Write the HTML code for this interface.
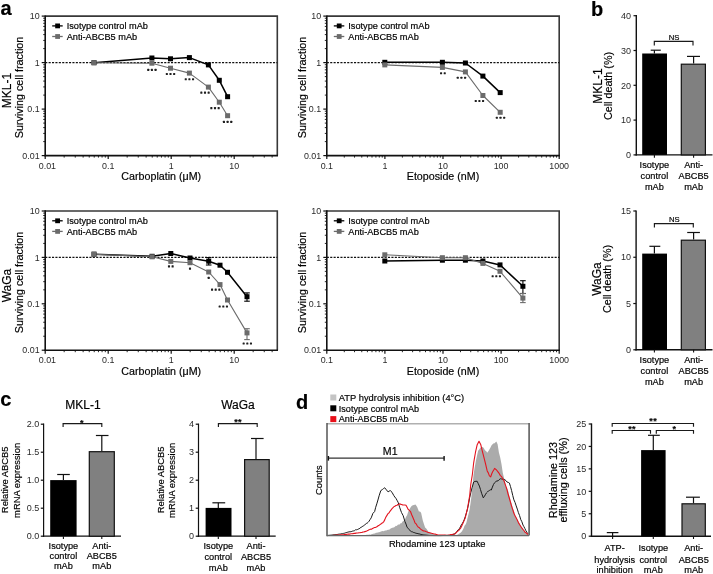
<!DOCTYPE html>
<html><head><meta charset="utf-8"><style>
html,body{margin:0;padding:0;background:#fff;}
svg{display:block;will-change:transform;}
text{font-family:"Liberation Sans", sans-serif;stroke:#000;stroke-width:0.18px;paint-order:stroke;}
text.tk{stroke:none;}
</style></head><body>
<svg width="713" height="574" viewBox="0 0 713 574">
<rect width="713" height="574" fill="#fff"/>
<polyline points="45.20,16.10 277.30,16.10 277.30,155.60" fill="none" stroke="#383838" stroke-width="1.6" stroke-linejoin="miter"/>
<line x1="45.20" y1="15.40" x2="45.20" y2="156.30" stroke="#111" stroke-width="1.6"/>
<line x1="44.50" y1="155.60" x2="278.00" y2="155.60" stroke="#111" stroke-width="1.6"/>
<line x1="41.70" y1="16.10" x2="45.20" y2="16.10" stroke="#111" stroke-width="1.2"/>
<text x="39.60" y="19.30" font-size="8.9" text-anchor="end" font-weight="normal" fill="#2a2a2a" class="tk">10</text>
<line x1="43.20" y1="48.60" x2="45.20" y2="48.60" stroke="#111" stroke-width="0.9"/>
<line x1="43.20" y1="40.41" x2="45.20" y2="40.41" stroke="#111" stroke-width="0.9"/>
<line x1="43.20" y1="34.60" x2="45.20" y2="34.60" stroke="#111" stroke-width="0.9"/>
<line x1="43.20" y1="30.10" x2="45.20" y2="30.10" stroke="#111" stroke-width="0.9"/>
<line x1="43.20" y1="26.42" x2="45.20" y2="26.42" stroke="#111" stroke-width="0.9"/>
<line x1="43.20" y1="23.30" x2="45.20" y2="23.30" stroke="#111" stroke-width="0.9"/>
<line x1="43.20" y1="20.61" x2="45.20" y2="20.61" stroke="#111" stroke-width="0.9"/>
<line x1="43.20" y1="18.23" x2="45.20" y2="18.23" stroke="#111" stroke-width="0.9"/>
<line x1="41.70" y1="62.60" x2="45.20" y2="62.60" stroke="#111" stroke-width="1.2"/>
<text x="39.60" y="65.80" font-size="8.9" text-anchor="end" font-weight="normal" fill="#2a2a2a" class="tk">1</text>
<line x1="43.20" y1="95.10" x2="45.20" y2="95.10" stroke="#111" stroke-width="0.9"/>
<line x1="43.20" y1="86.91" x2="45.20" y2="86.91" stroke="#111" stroke-width="0.9"/>
<line x1="43.20" y1="81.10" x2="45.20" y2="81.10" stroke="#111" stroke-width="0.9"/>
<line x1="43.20" y1="76.60" x2="45.20" y2="76.60" stroke="#111" stroke-width="0.9"/>
<line x1="43.20" y1="72.92" x2="45.20" y2="72.92" stroke="#111" stroke-width="0.9"/>
<line x1="43.20" y1="69.80" x2="45.20" y2="69.80" stroke="#111" stroke-width="0.9"/>
<line x1="43.20" y1="67.11" x2="45.20" y2="67.11" stroke="#111" stroke-width="0.9"/>
<line x1="43.20" y1="64.73" x2="45.20" y2="64.73" stroke="#111" stroke-width="0.9"/>
<line x1="41.70" y1="109.10" x2="45.20" y2="109.10" stroke="#111" stroke-width="1.2"/>
<text x="39.60" y="112.30" font-size="8.9" text-anchor="end" font-weight="normal" fill="#2a2a2a" class="tk">0.1</text>
<line x1="43.20" y1="141.60" x2="45.20" y2="141.60" stroke="#111" stroke-width="0.9"/>
<line x1="43.20" y1="133.41" x2="45.20" y2="133.41" stroke="#111" stroke-width="0.9"/>
<line x1="43.20" y1="127.60" x2="45.20" y2="127.60" stroke="#111" stroke-width="0.9"/>
<line x1="43.20" y1="123.10" x2="45.20" y2="123.10" stroke="#111" stroke-width="0.9"/>
<line x1="43.20" y1="119.42" x2="45.20" y2="119.42" stroke="#111" stroke-width="0.9"/>
<line x1="43.20" y1="116.30" x2="45.20" y2="116.30" stroke="#111" stroke-width="0.9"/>
<line x1="43.20" y1="113.61" x2="45.20" y2="113.61" stroke="#111" stroke-width="0.9"/>
<line x1="43.20" y1="111.23" x2="45.20" y2="111.23" stroke="#111" stroke-width="0.9"/>
<line x1="41.70" y1="155.60" x2="45.20" y2="155.60" stroke="#111" stroke-width="1.2"/>
<text x="39.60" y="158.80" font-size="8.9" text-anchor="end" font-weight="normal" fill="#2a2a2a" class="tk">0.01</text>
<line x1="45.20" y1="155.60" x2="45.20" y2="159.10" stroke="#111" stroke-width="1.2"/>
<line x1="64.16" y1="155.60" x2="64.16" y2="157.60" stroke="#111" stroke-width="0.9"/>
<line x1="75.26" y1="155.60" x2="75.26" y2="157.60" stroke="#111" stroke-width="0.9"/>
<line x1="83.13" y1="155.60" x2="83.13" y2="157.60" stroke="#111" stroke-width="0.9"/>
<line x1="89.24" y1="155.60" x2="89.24" y2="157.60" stroke="#111" stroke-width="0.9"/>
<line x1="94.22" y1="155.60" x2="94.22" y2="157.60" stroke="#111" stroke-width="0.9"/>
<line x1="98.44" y1="155.60" x2="98.44" y2="157.60" stroke="#111" stroke-width="0.9"/>
<line x1="102.09" y1="155.60" x2="102.09" y2="157.60" stroke="#111" stroke-width="0.9"/>
<line x1="105.32" y1="155.60" x2="105.32" y2="157.60" stroke="#111" stroke-width="0.9"/>
<line x1="108.20" y1="155.60" x2="108.20" y2="159.10" stroke="#111" stroke-width="1.2"/>
<line x1="127.16" y1="155.60" x2="127.16" y2="157.60" stroke="#111" stroke-width="0.9"/>
<line x1="138.26" y1="155.60" x2="138.26" y2="157.60" stroke="#111" stroke-width="0.9"/>
<line x1="146.13" y1="155.60" x2="146.13" y2="157.60" stroke="#111" stroke-width="0.9"/>
<line x1="152.24" y1="155.60" x2="152.24" y2="157.60" stroke="#111" stroke-width="0.9"/>
<line x1="157.22" y1="155.60" x2="157.22" y2="157.60" stroke="#111" stroke-width="0.9"/>
<line x1="161.44" y1="155.60" x2="161.44" y2="157.60" stroke="#111" stroke-width="0.9"/>
<line x1="165.09" y1="155.60" x2="165.09" y2="157.60" stroke="#111" stroke-width="0.9"/>
<line x1="168.32" y1="155.60" x2="168.32" y2="157.60" stroke="#111" stroke-width="0.9"/>
<line x1="171.20" y1="155.60" x2="171.20" y2="159.10" stroke="#111" stroke-width="1.2"/>
<line x1="190.16" y1="155.60" x2="190.16" y2="157.60" stroke="#111" stroke-width="0.9"/>
<line x1="201.26" y1="155.60" x2="201.26" y2="157.60" stroke="#111" stroke-width="0.9"/>
<line x1="209.13" y1="155.60" x2="209.13" y2="157.60" stroke="#111" stroke-width="0.9"/>
<line x1="215.24" y1="155.60" x2="215.24" y2="157.60" stroke="#111" stroke-width="0.9"/>
<line x1="220.22" y1="155.60" x2="220.22" y2="157.60" stroke="#111" stroke-width="0.9"/>
<line x1="224.44" y1="155.60" x2="224.44" y2="157.60" stroke="#111" stroke-width="0.9"/>
<line x1="228.09" y1="155.60" x2="228.09" y2="157.60" stroke="#111" stroke-width="0.9"/>
<line x1="231.32" y1="155.60" x2="231.32" y2="157.60" stroke="#111" stroke-width="0.9"/>
<line x1="234.20" y1="155.60" x2="234.20" y2="159.10" stroke="#111" stroke-width="1.2"/>
<line x1="253.16" y1="155.60" x2="253.16" y2="157.60" stroke="#111" stroke-width="0.9"/>
<line x1="264.26" y1="155.60" x2="264.26" y2="157.60" stroke="#111" stroke-width="0.9"/>
<line x1="272.13" y1="155.60" x2="272.13" y2="157.60" stroke="#111" stroke-width="0.9"/>
<text x="47.40" y="168.70" font-size="8.9" text-anchor="middle" font-weight="normal" fill="#2a2a2a" class="tk">0.01</text>
<text x="108.20" y="168.70" font-size="8.9" text-anchor="middle" font-weight="normal" fill="#2a2a2a" class="tk">0.1</text>
<text x="171.20" y="168.70" font-size="8.9" text-anchor="middle" font-weight="normal" fill="#2a2a2a" class="tk">1</text>
<text x="234.20" y="168.70" font-size="8.9" text-anchor="middle" font-weight="normal" fill="#2a2a2a" class="tk">10</text>
<text x="161.25" y="180.10" font-size="10.7" text-anchor="middle" font-weight="normal" fill="#000">Carboplatin (μM)</text>
<line x1="45.20" y1="62.60" x2="277.30" y2="62.60" stroke="#111" stroke-width="1.1" stroke-dasharray="2.1 1.3"/>
<line x1="52.20" y1="25.90" x2="62.70" y2="25.90" stroke="#000" stroke-width="1.3"/>
<rect x="55.20" y="23.50" width="4.80" height="4.80" fill="#000"/>
<text x="66.70" y="29.10" font-size="9.2" text-anchor="start" font-weight="normal" fill="#000">Isotype control mAb</text>
<line x1="52.20" y1="36.50" x2="62.70" y2="36.50" stroke="#6b6b6b" stroke-width="1.3"/>
<rect x="55.20" y="34.10" width="4.80" height="4.80" fill="#6b6b6b"/>
<text x="66.70" y="39.70" font-size="9.2" text-anchor="start" font-weight="normal" fill="#000">Anti-ABCB5 mAb</text>
<polyline points="94.00,62.70 151.90,58.00 170.50,58.80 189.40,57.60 208.40,64.90 219.30,80.30 227.60,96.70" fill="none" stroke="#000" stroke-width="1.5" stroke-linejoin="round"/>
<polyline points="94.00,62.70 151.90,63.20 170.50,68.20 189.40,73.10 208.40,87.10 219.30,102.20 227.60,115.70" fill="none" stroke="#6b6b6b" stroke-width="1.1" stroke-linejoin="round"/>
<rect x="91.50" y="60.20" width="5.00" height="5.00" fill="#000"/>
<rect x="149.40" y="55.50" width="5.00" height="5.00" fill="#000"/>
<rect x="168.00" y="56.30" width="5.00" height="5.00" fill="#000"/>
<rect x="186.90" y="55.10" width="5.00" height="5.00" fill="#000"/>
<rect x="205.90" y="62.40" width="5.00" height="5.00" fill="#000"/>
<rect x="216.80" y="77.80" width="5.00" height="5.00" fill="#000"/>
<rect x="225.10" y="94.20" width="5.00" height="5.00" fill="#000"/>
<rect x="91.50" y="60.20" width="5.00" height="5.00" fill="#6b6b6b"/>
<rect x="149.40" y="60.70" width="5.00" height="5.00" fill="#6b6b6b"/>
<rect x="168.00" y="65.70" width="5.00" height="5.00" fill="#6b6b6b"/>
<rect x="186.90" y="70.60" width="5.00" height="5.00" fill="#6b6b6b"/>
<rect x="205.90" y="84.60" width="5.00" height="5.00" fill="#6b6b6b"/>
<rect x="216.80" y="99.70" width="5.00" height="5.00" fill="#6b6b6b"/>
<rect x="225.10" y="113.20" width="5.00" height="5.00" fill="#6b6b6b"/>
<rect x="147.20" y="68.85" width="2.1" height="2.1" rx="0.5" fill="#1e1e1e"/>
<rect x="150.85" y="68.85" width="2.1" height="2.1" rx="0.5" fill="#1e1e1e"/>
<rect x="154.50" y="68.85" width="2.1" height="2.1" rx="0.5" fill="#1e1e1e"/>
<rect x="165.80" y="72.95" width="2.1" height="2.1" rx="0.5" fill="#1e1e1e"/>
<rect x="169.45" y="72.95" width="2.1" height="2.1" rx="0.5" fill="#1e1e1e"/>
<rect x="173.10" y="72.95" width="2.1" height="2.1" rx="0.5" fill="#1e1e1e"/>
<rect x="184.70" y="78.15" width="2.1" height="2.1" rx="0.5" fill="#1e1e1e"/>
<rect x="188.35" y="78.15" width="2.1" height="2.1" rx="0.5" fill="#1e1e1e"/>
<rect x="192.00" y="78.15" width="2.1" height="2.1" rx="0.5" fill="#1e1e1e"/>
<rect x="200.30" y="91.55" width="2.1" height="2.1" rx="0.5" fill="#1e1e1e"/>
<rect x="203.95" y="91.55" width="2.1" height="2.1" rx="0.5" fill="#1e1e1e"/>
<rect x="207.60" y="91.55" width="2.1" height="2.1" rx="0.5" fill="#1e1e1e"/>
<rect x="210.30" y="107.05" width="2.1" height="2.1" rx="0.5" fill="#1e1e1e"/>
<rect x="213.95" y="107.05" width="2.1" height="2.1" rx="0.5" fill="#1e1e1e"/>
<rect x="217.60" y="107.05" width="2.1" height="2.1" rx="0.5" fill="#1e1e1e"/>
<rect x="222.90" y="120.85" width="2.1" height="2.1" rx="0.5" fill="#1e1e1e"/>
<rect x="226.55" y="120.85" width="2.1" height="2.1" rx="0.5" fill="#1e1e1e"/>
<rect x="230.20" y="120.85" width="2.1" height="2.1" rx="0.5" fill="#1e1e1e"/>
<polyline points="326.80,16.10 559.20,16.10 559.20,155.60" fill="none" stroke="#383838" stroke-width="1.6" stroke-linejoin="miter"/>
<line x1="326.80" y1="15.40" x2="326.80" y2="156.30" stroke="#111" stroke-width="1.6"/>
<line x1="326.10" y1="155.60" x2="559.90" y2="155.60" stroke="#111" stroke-width="1.6"/>
<line x1="323.30" y1="16.10" x2="326.80" y2="16.10" stroke="#111" stroke-width="1.2"/>
<text x="321.20" y="19.30" font-size="8.9" text-anchor="end" font-weight="normal" fill="#2a2a2a" class="tk">10</text>
<line x1="324.80" y1="48.60" x2="326.80" y2="48.60" stroke="#111" stroke-width="0.9"/>
<line x1="324.80" y1="40.41" x2="326.80" y2="40.41" stroke="#111" stroke-width="0.9"/>
<line x1="324.80" y1="34.60" x2="326.80" y2="34.60" stroke="#111" stroke-width="0.9"/>
<line x1="324.80" y1="30.10" x2="326.80" y2="30.10" stroke="#111" stroke-width="0.9"/>
<line x1="324.80" y1="26.42" x2="326.80" y2="26.42" stroke="#111" stroke-width="0.9"/>
<line x1="324.80" y1="23.30" x2="326.80" y2="23.30" stroke="#111" stroke-width="0.9"/>
<line x1="324.80" y1="20.61" x2="326.80" y2="20.61" stroke="#111" stroke-width="0.9"/>
<line x1="324.80" y1="18.23" x2="326.80" y2="18.23" stroke="#111" stroke-width="0.9"/>
<line x1="323.30" y1="62.60" x2="326.80" y2="62.60" stroke="#111" stroke-width="1.2"/>
<text x="321.20" y="65.80" font-size="8.9" text-anchor="end" font-weight="normal" fill="#2a2a2a" class="tk">1</text>
<line x1="324.80" y1="95.10" x2="326.80" y2="95.10" stroke="#111" stroke-width="0.9"/>
<line x1="324.80" y1="86.91" x2="326.80" y2="86.91" stroke="#111" stroke-width="0.9"/>
<line x1="324.80" y1="81.10" x2="326.80" y2="81.10" stroke="#111" stroke-width="0.9"/>
<line x1="324.80" y1="76.60" x2="326.80" y2="76.60" stroke="#111" stroke-width="0.9"/>
<line x1="324.80" y1="72.92" x2="326.80" y2="72.92" stroke="#111" stroke-width="0.9"/>
<line x1="324.80" y1="69.80" x2="326.80" y2="69.80" stroke="#111" stroke-width="0.9"/>
<line x1="324.80" y1="67.11" x2="326.80" y2="67.11" stroke="#111" stroke-width="0.9"/>
<line x1="324.80" y1="64.73" x2="326.80" y2="64.73" stroke="#111" stroke-width="0.9"/>
<line x1="323.30" y1="109.10" x2="326.80" y2="109.10" stroke="#111" stroke-width="1.2"/>
<text x="321.20" y="112.30" font-size="8.9" text-anchor="end" font-weight="normal" fill="#2a2a2a" class="tk">0.1</text>
<line x1="324.80" y1="141.60" x2="326.80" y2="141.60" stroke="#111" stroke-width="0.9"/>
<line x1="324.80" y1="133.41" x2="326.80" y2="133.41" stroke="#111" stroke-width="0.9"/>
<line x1="324.80" y1="127.60" x2="326.80" y2="127.60" stroke="#111" stroke-width="0.9"/>
<line x1="324.80" y1="123.10" x2="326.80" y2="123.10" stroke="#111" stroke-width="0.9"/>
<line x1="324.80" y1="119.42" x2="326.80" y2="119.42" stroke="#111" stroke-width="0.9"/>
<line x1="324.80" y1="116.30" x2="326.80" y2="116.30" stroke="#111" stroke-width="0.9"/>
<line x1="324.80" y1="113.61" x2="326.80" y2="113.61" stroke="#111" stroke-width="0.9"/>
<line x1="324.80" y1="111.23" x2="326.80" y2="111.23" stroke="#111" stroke-width="0.9"/>
<line x1="323.30" y1="155.60" x2="326.80" y2="155.60" stroke="#111" stroke-width="1.2"/>
<text x="321.20" y="158.80" font-size="8.9" text-anchor="end" font-weight="normal" fill="#2a2a2a" class="tk">0.01</text>
<line x1="326.80" y1="155.60" x2="326.80" y2="159.10" stroke="#111" stroke-width="1.2"/>
<line x1="344.29" y1="155.60" x2="344.29" y2="157.60" stroke="#111" stroke-width="0.9"/>
<line x1="354.52" y1="155.60" x2="354.52" y2="157.60" stroke="#111" stroke-width="0.9"/>
<line x1="361.78" y1="155.60" x2="361.78" y2="157.60" stroke="#111" stroke-width="0.9"/>
<line x1="367.41" y1="155.60" x2="367.41" y2="157.60" stroke="#111" stroke-width="0.9"/>
<line x1="372.01" y1="155.60" x2="372.01" y2="157.60" stroke="#111" stroke-width="0.9"/>
<line x1="375.90" y1="155.60" x2="375.90" y2="157.60" stroke="#111" stroke-width="0.9"/>
<line x1="379.27" y1="155.60" x2="379.27" y2="157.60" stroke="#111" stroke-width="0.9"/>
<line x1="382.24" y1="155.60" x2="382.24" y2="157.60" stroke="#111" stroke-width="0.9"/>
<line x1="384.90" y1="155.60" x2="384.90" y2="159.10" stroke="#111" stroke-width="1.2"/>
<line x1="402.39" y1="155.60" x2="402.39" y2="157.60" stroke="#111" stroke-width="0.9"/>
<line x1="412.62" y1="155.60" x2="412.62" y2="157.60" stroke="#111" stroke-width="0.9"/>
<line x1="419.88" y1="155.60" x2="419.88" y2="157.60" stroke="#111" stroke-width="0.9"/>
<line x1="425.51" y1="155.60" x2="425.51" y2="157.60" stroke="#111" stroke-width="0.9"/>
<line x1="430.11" y1="155.60" x2="430.11" y2="157.60" stroke="#111" stroke-width="0.9"/>
<line x1="434.00" y1="155.60" x2="434.00" y2="157.60" stroke="#111" stroke-width="0.9"/>
<line x1="437.37" y1="155.60" x2="437.37" y2="157.60" stroke="#111" stroke-width="0.9"/>
<line x1="440.34" y1="155.60" x2="440.34" y2="157.60" stroke="#111" stroke-width="0.9"/>
<line x1="443.00" y1="155.60" x2="443.00" y2="159.10" stroke="#111" stroke-width="1.2"/>
<line x1="460.49" y1="155.60" x2="460.49" y2="157.60" stroke="#111" stroke-width="0.9"/>
<line x1="470.72" y1="155.60" x2="470.72" y2="157.60" stroke="#111" stroke-width="0.9"/>
<line x1="477.98" y1="155.60" x2="477.98" y2="157.60" stroke="#111" stroke-width="0.9"/>
<line x1="483.61" y1="155.60" x2="483.61" y2="157.60" stroke="#111" stroke-width="0.9"/>
<line x1="488.21" y1="155.60" x2="488.21" y2="157.60" stroke="#111" stroke-width="0.9"/>
<line x1="492.10" y1="155.60" x2="492.10" y2="157.60" stroke="#111" stroke-width="0.9"/>
<line x1="495.47" y1="155.60" x2="495.47" y2="157.60" stroke="#111" stroke-width="0.9"/>
<line x1="498.44" y1="155.60" x2="498.44" y2="157.60" stroke="#111" stroke-width="0.9"/>
<line x1="501.10" y1="155.60" x2="501.10" y2="159.10" stroke="#111" stroke-width="1.2"/>
<line x1="518.59" y1="155.60" x2="518.59" y2="157.60" stroke="#111" stroke-width="0.9"/>
<line x1="528.82" y1="155.60" x2="528.82" y2="157.60" stroke="#111" stroke-width="0.9"/>
<line x1="536.08" y1="155.60" x2="536.08" y2="157.60" stroke="#111" stroke-width="0.9"/>
<line x1="541.71" y1="155.60" x2="541.71" y2="157.60" stroke="#111" stroke-width="0.9"/>
<line x1="546.31" y1="155.60" x2="546.31" y2="157.60" stroke="#111" stroke-width="0.9"/>
<line x1="550.20" y1="155.60" x2="550.20" y2="157.60" stroke="#111" stroke-width="0.9"/>
<line x1="553.57" y1="155.60" x2="553.57" y2="157.60" stroke="#111" stroke-width="0.9"/>
<line x1="556.54" y1="155.60" x2="556.54" y2="157.60" stroke="#111" stroke-width="0.9"/>
<line x1="559.20" y1="155.60" x2="559.20" y2="159.10" stroke="#111" stroke-width="1.2"/>
<text x="326.80" y="168.70" font-size="8.9" text-anchor="middle" font-weight="normal" fill="#2a2a2a" class="tk">0.1</text>
<text x="384.90" y="168.70" font-size="8.9" text-anchor="middle" font-weight="normal" fill="#2a2a2a" class="tk">1</text>
<text x="443.00" y="168.70" font-size="8.9" text-anchor="middle" font-weight="normal" fill="#2a2a2a" class="tk">10</text>
<text x="501.10" y="168.70" font-size="8.9" text-anchor="middle" font-weight="normal" fill="#2a2a2a" class="tk">100</text>
<text x="559.20" y="168.70" font-size="8.9" text-anchor="middle" font-weight="normal" fill="#2a2a2a" class="tk">1000</text>
<text x="443.00" y="180.10" font-size="10.7" text-anchor="middle" font-weight="normal" fill="#000">Etoposide (nM)</text>
<line x1="326.80" y1="62.60" x2="559.20" y2="62.60" stroke="#111" stroke-width="1.1" stroke-dasharray="2.1 1.3"/>
<line x1="333.80" y1="25.90" x2="344.30" y2="25.90" stroke="#000" stroke-width="1.3"/>
<rect x="336.80" y="23.50" width="4.80" height="4.80" fill="#000"/>
<text x="348.30" y="29.10" font-size="9.2" text-anchor="start" font-weight="normal" fill="#000">Isotype control mAb</text>
<line x1="333.80" y1="36.50" x2="344.30" y2="36.50" stroke="#6b6b6b" stroke-width="1.3"/>
<rect x="336.80" y="34.10" width="4.80" height="4.80" fill="#6b6b6b"/>
<text x="348.30" y="39.70" font-size="9.2" text-anchor="start" font-weight="normal" fill="#000">Anti-ABCB5 mAb</text>
<polyline points="384.80,62.30 442.40,62.30 465.40,63.00 482.90,76.10 500.20,92.60" fill="none" stroke="#000" stroke-width="1.5" stroke-linejoin="round"/>
<polyline points="384.80,64.90 442.40,67.40 465.40,71.90 482.90,95.50 500.20,112.30" fill="none" stroke="#6b6b6b" stroke-width="1.1" stroke-linejoin="round"/>
<rect x="382.30" y="59.80" width="5.00" height="5.00" fill="#000"/>
<rect x="439.90" y="59.80" width="5.00" height="5.00" fill="#000"/>
<rect x="462.90" y="60.50" width="5.00" height="5.00" fill="#000"/>
<rect x="480.40" y="73.60" width="5.00" height="5.00" fill="#000"/>
<rect x="497.70" y="90.10" width="5.00" height="5.00" fill="#000"/>
<rect x="382.30" y="62.40" width="5.00" height="5.00" fill="#6b6b6b"/>
<rect x="439.90" y="64.90" width="5.00" height="5.00" fill="#6b6b6b"/>
<rect x="462.90" y="69.40" width="5.00" height="5.00" fill="#6b6b6b"/>
<rect x="480.40" y="93.00" width="5.00" height="5.00" fill="#6b6b6b"/>
<rect x="497.70" y="109.80" width="5.00" height="5.00" fill="#6b6b6b"/>
<rect x="440.02" y="72.25" width="2.1" height="2.1" rx="0.5" fill="#1e1e1e"/>
<rect x="443.67" y="72.25" width="2.1" height="2.1" rx="0.5" fill="#1e1e1e"/>
<rect x="456.70" y="76.75" width="2.1" height="2.1" rx="0.5" fill="#1e1e1e"/>
<rect x="460.35" y="76.75" width="2.1" height="2.1" rx="0.5" fill="#1e1e1e"/>
<rect x="464.00" y="76.75" width="2.1" height="2.1" rx="0.5" fill="#1e1e1e"/>
<rect x="474.70" y="99.95" width="2.1" height="2.1" rx="0.5" fill="#1e1e1e"/>
<rect x="478.35" y="99.95" width="2.1" height="2.1" rx="0.5" fill="#1e1e1e"/>
<rect x="482.00" y="99.95" width="2.1" height="2.1" rx="0.5" fill="#1e1e1e"/>
<rect x="495.80" y="116.65" width="2.1" height="2.1" rx="0.5" fill="#1e1e1e"/>
<rect x="499.45" y="116.65" width="2.1" height="2.1" rx="0.5" fill="#1e1e1e"/>
<rect x="503.10" y="116.65" width="2.1" height="2.1" rx="0.5" fill="#1e1e1e"/>
<polyline points="45.20,211.00 277.30,211.00 277.30,350.20" fill="none" stroke="#383838" stroke-width="1.6" stroke-linejoin="miter"/>
<line x1="45.20" y1="210.30" x2="45.20" y2="350.90" stroke="#111" stroke-width="1.6"/>
<line x1="44.50" y1="350.20" x2="278.00" y2="350.20" stroke="#111" stroke-width="1.6"/>
<line x1="41.70" y1="211.00" x2="45.20" y2="211.00" stroke="#111" stroke-width="1.2"/>
<text x="39.60" y="214.20" font-size="8.9" text-anchor="end" font-weight="normal" fill="#2a2a2a" class="tk">10</text>
<line x1="43.20" y1="243.43" x2="45.20" y2="243.43" stroke="#111" stroke-width="0.9"/>
<line x1="43.20" y1="235.26" x2="45.20" y2="235.26" stroke="#111" stroke-width="0.9"/>
<line x1="43.20" y1="229.46" x2="45.20" y2="229.46" stroke="#111" stroke-width="0.9"/>
<line x1="43.20" y1="224.97" x2="45.20" y2="224.97" stroke="#111" stroke-width="0.9"/>
<line x1="43.20" y1="221.29" x2="45.20" y2="221.29" stroke="#111" stroke-width="0.9"/>
<line x1="43.20" y1="218.19" x2="45.20" y2="218.19" stroke="#111" stroke-width="0.9"/>
<line x1="43.20" y1="215.50" x2="45.20" y2="215.50" stroke="#111" stroke-width="0.9"/>
<line x1="43.20" y1="213.12" x2="45.20" y2="213.12" stroke="#111" stroke-width="0.9"/>
<line x1="41.70" y1="257.40" x2="45.20" y2="257.40" stroke="#111" stroke-width="1.2"/>
<text x="39.60" y="260.60" font-size="8.9" text-anchor="end" font-weight="normal" fill="#2a2a2a" class="tk">1</text>
<line x1="43.20" y1="289.83" x2="45.20" y2="289.83" stroke="#111" stroke-width="0.9"/>
<line x1="43.20" y1="281.66" x2="45.20" y2="281.66" stroke="#111" stroke-width="0.9"/>
<line x1="43.20" y1="275.86" x2="45.20" y2="275.86" stroke="#111" stroke-width="0.9"/>
<line x1="43.20" y1="271.37" x2="45.20" y2="271.37" stroke="#111" stroke-width="0.9"/>
<line x1="43.20" y1="267.69" x2="45.20" y2="267.69" stroke="#111" stroke-width="0.9"/>
<line x1="43.20" y1="264.59" x2="45.20" y2="264.59" stroke="#111" stroke-width="0.9"/>
<line x1="43.20" y1="261.90" x2="45.20" y2="261.90" stroke="#111" stroke-width="0.9"/>
<line x1="43.20" y1="259.52" x2="45.20" y2="259.52" stroke="#111" stroke-width="0.9"/>
<line x1="41.70" y1="303.80" x2="45.20" y2="303.80" stroke="#111" stroke-width="1.2"/>
<text x="39.60" y="307.00" font-size="8.9" text-anchor="end" font-weight="normal" fill="#2a2a2a" class="tk">0.1</text>
<line x1="43.20" y1="336.23" x2="45.20" y2="336.23" stroke="#111" stroke-width="0.9"/>
<line x1="43.20" y1="328.06" x2="45.20" y2="328.06" stroke="#111" stroke-width="0.9"/>
<line x1="43.20" y1="322.26" x2="45.20" y2="322.26" stroke="#111" stroke-width="0.9"/>
<line x1="43.20" y1="317.77" x2="45.20" y2="317.77" stroke="#111" stroke-width="0.9"/>
<line x1="43.20" y1="314.09" x2="45.20" y2="314.09" stroke="#111" stroke-width="0.9"/>
<line x1="43.20" y1="310.99" x2="45.20" y2="310.99" stroke="#111" stroke-width="0.9"/>
<line x1="43.20" y1="308.30" x2="45.20" y2="308.30" stroke="#111" stroke-width="0.9"/>
<line x1="43.20" y1="305.92" x2="45.20" y2="305.92" stroke="#111" stroke-width="0.9"/>
<line x1="41.70" y1="350.20" x2="45.20" y2="350.20" stroke="#111" stroke-width="1.2"/>
<text x="39.60" y="353.40" font-size="8.9" text-anchor="end" font-weight="normal" fill="#2a2a2a" class="tk">0.01</text>
<line x1="45.20" y1="350.20" x2="45.20" y2="353.70" stroke="#111" stroke-width="1.2"/>
<line x1="64.16" y1="350.20" x2="64.16" y2="352.20" stroke="#111" stroke-width="0.9"/>
<line x1="75.26" y1="350.20" x2="75.26" y2="352.20" stroke="#111" stroke-width="0.9"/>
<line x1="83.13" y1="350.20" x2="83.13" y2="352.20" stroke="#111" stroke-width="0.9"/>
<line x1="89.24" y1="350.20" x2="89.24" y2="352.20" stroke="#111" stroke-width="0.9"/>
<line x1="94.22" y1="350.20" x2="94.22" y2="352.20" stroke="#111" stroke-width="0.9"/>
<line x1="98.44" y1="350.20" x2="98.44" y2="352.20" stroke="#111" stroke-width="0.9"/>
<line x1="102.09" y1="350.20" x2="102.09" y2="352.20" stroke="#111" stroke-width="0.9"/>
<line x1="105.32" y1="350.20" x2="105.32" y2="352.20" stroke="#111" stroke-width="0.9"/>
<line x1="108.20" y1="350.20" x2="108.20" y2="353.70" stroke="#111" stroke-width="1.2"/>
<line x1="127.16" y1="350.20" x2="127.16" y2="352.20" stroke="#111" stroke-width="0.9"/>
<line x1="138.26" y1="350.20" x2="138.26" y2="352.20" stroke="#111" stroke-width="0.9"/>
<line x1="146.13" y1="350.20" x2="146.13" y2="352.20" stroke="#111" stroke-width="0.9"/>
<line x1="152.24" y1="350.20" x2="152.24" y2="352.20" stroke="#111" stroke-width="0.9"/>
<line x1="157.22" y1="350.20" x2="157.22" y2="352.20" stroke="#111" stroke-width="0.9"/>
<line x1="161.44" y1="350.20" x2="161.44" y2="352.20" stroke="#111" stroke-width="0.9"/>
<line x1="165.09" y1="350.20" x2="165.09" y2="352.20" stroke="#111" stroke-width="0.9"/>
<line x1="168.32" y1="350.20" x2="168.32" y2="352.20" stroke="#111" stroke-width="0.9"/>
<line x1="171.20" y1="350.20" x2="171.20" y2="353.70" stroke="#111" stroke-width="1.2"/>
<line x1="190.16" y1="350.20" x2="190.16" y2="352.20" stroke="#111" stroke-width="0.9"/>
<line x1="201.26" y1="350.20" x2="201.26" y2="352.20" stroke="#111" stroke-width="0.9"/>
<line x1="209.13" y1="350.20" x2="209.13" y2="352.20" stroke="#111" stroke-width="0.9"/>
<line x1="215.24" y1="350.20" x2="215.24" y2="352.20" stroke="#111" stroke-width="0.9"/>
<line x1="220.22" y1="350.20" x2="220.22" y2="352.20" stroke="#111" stroke-width="0.9"/>
<line x1="224.44" y1="350.20" x2="224.44" y2="352.20" stroke="#111" stroke-width="0.9"/>
<line x1="228.09" y1="350.20" x2="228.09" y2="352.20" stroke="#111" stroke-width="0.9"/>
<line x1="231.32" y1="350.20" x2="231.32" y2="352.20" stroke="#111" stroke-width="0.9"/>
<line x1="234.20" y1="350.20" x2="234.20" y2="353.70" stroke="#111" stroke-width="1.2"/>
<line x1="253.16" y1="350.20" x2="253.16" y2="352.20" stroke="#111" stroke-width="0.9"/>
<line x1="264.26" y1="350.20" x2="264.26" y2="352.20" stroke="#111" stroke-width="0.9"/>
<line x1="272.13" y1="350.20" x2="272.13" y2="352.20" stroke="#111" stroke-width="0.9"/>
<text x="47.40" y="363.30" font-size="8.9" text-anchor="middle" font-weight="normal" fill="#2a2a2a" class="tk">0.01</text>
<text x="108.20" y="363.30" font-size="8.9" text-anchor="middle" font-weight="normal" fill="#2a2a2a" class="tk">0.1</text>
<text x="171.20" y="363.30" font-size="8.9" text-anchor="middle" font-weight="normal" fill="#2a2a2a" class="tk">1</text>
<text x="234.20" y="363.30" font-size="8.9" text-anchor="middle" font-weight="normal" fill="#2a2a2a" class="tk">10</text>
<text x="161.25" y="374.70" font-size="10.7" text-anchor="middle" font-weight="normal" fill="#000">Carboplatin (μM)</text>
<line x1="45.20" y1="257.40" x2="277.30" y2="257.40" stroke="#111" stroke-width="1.1" stroke-dasharray="2.1 1.3"/>
<line x1="52.20" y1="220.80" x2="62.70" y2="220.80" stroke="#000" stroke-width="1.3"/>
<rect x="55.20" y="218.40" width="4.80" height="4.80" fill="#000"/>
<text x="66.70" y="224.00" font-size="9.2" text-anchor="start" font-weight="normal" fill="#000">Isotype control mAb</text>
<line x1="52.20" y1="231.40" x2="62.70" y2="231.40" stroke="#6b6b6b" stroke-width="1.3"/>
<rect x="55.20" y="229.00" width="4.80" height="4.80" fill="#6b6b6b"/>
<text x="66.70" y="234.60" font-size="9.2" text-anchor="start" font-weight="normal" fill="#000">Anti-ABCB5 mAb</text>
<polyline points="94.00,254.20 152.10,256.30 170.80,253.50 190.00,258.00 208.70,261.20 220.00,265.20 227.50,272.30 247.00,296.70" fill="none" stroke="#000" stroke-width="1.5" stroke-linejoin="round"/>
<polyline points="94.00,254.20 152.10,256.80 170.80,261.40 190.00,262.70 208.70,272.00 220.00,284.60 227.50,300.00 247.00,332.90" fill="none" stroke="#6b6b6b" stroke-width="1.1" stroke-linejoin="round"/>
<line x1="247.00" y1="292.90" x2="247.00" y2="301.20" stroke="#000" stroke-width="1.1"/>
<line x1="244.20" y1="292.90" x2="249.80" y2="292.90" stroke="#000" stroke-width="1.1"/>
<line x1="244.20" y1="301.20" x2="249.80" y2="301.20" stroke="#000" stroke-width="1.1"/>
<line x1="247.00" y1="328.70" x2="247.00" y2="339.60" stroke="#6b6b6b" stroke-width="1.1"/>
<line x1="244.20" y1="328.70" x2="249.80" y2="328.70" stroke="#6b6b6b" stroke-width="1.1"/>
<line x1="244.20" y1="339.60" x2="249.80" y2="339.60" stroke="#6b6b6b" stroke-width="1.1"/>
<line x1="208.70" y1="257.60" x2="208.70" y2="265.00" stroke="#000" stroke-width="1.1"/>
<line x1="205.90" y1="257.60" x2="211.50" y2="257.60" stroke="#000" stroke-width="1.1"/>
<line x1="205.90" y1="265.00" x2="211.50" y2="265.00" stroke="#000" stroke-width="1.1"/>
<rect x="91.50" y="251.70" width="5.00" height="5.00" fill="#000"/>
<rect x="149.60" y="253.80" width="5.00" height="5.00" fill="#000"/>
<rect x="168.30" y="251.00" width="5.00" height="5.00" fill="#000"/>
<rect x="187.50" y="255.50" width="5.00" height="5.00" fill="#000"/>
<rect x="206.20" y="258.70" width="5.00" height="5.00" fill="#000"/>
<rect x="217.50" y="262.70" width="5.00" height="5.00" fill="#000"/>
<rect x="225.00" y="269.80" width="5.00" height="5.00" fill="#000"/>
<rect x="244.50" y="294.20" width="5.00" height="5.00" fill="#000"/>
<rect x="91.50" y="251.70" width="5.00" height="5.00" fill="#6b6b6b"/>
<rect x="149.60" y="254.30" width="5.00" height="5.00" fill="#6b6b6b"/>
<rect x="168.30" y="258.90" width="5.00" height="5.00" fill="#6b6b6b"/>
<rect x="187.50" y="260.20" width="5.00" height="5.00" fill="#6b6b6b"/>
<rect x="206.20" y="269.50" width="5.00" height="5.00" fill="#6b6b6b"/>
<rect x="217.50" y="282.10" width="5.00" height="5.00" fill="#6b6b6b"/>
<rect x="225.00" y="297.50" width="5.00" height="5.00" fill="#6b6b6b"/>
<rect x="244.50" y="330.40" width="5.00" height="5.00" fill="#6b6b6b"/>
<rect x="167.93" y="265.35" width="2.1" height="2.1" rx="0.5" fill="#1e1e1e"/>
<rect x="171.57" y="265.35" width="2.1" height="2.1" rx="0.5" fill="#1e1e1e"/>
<rect x="188.95" y="267.55" width="2.1" height="2.1" rx="0.5" fill="#1e1e1e"/>
<rect x="207.65" y="276.85" width="2.1" height="2.1" rx="0.5" fill="#1e1e1e"/>
<rect x="211.00" y="288.55" width="2.1" height="2.1" rx="0.5" fill="#1e1e1e"/>
<rect x="214.65" y="288.55" width="2.1" height="2.1" rx="0.5" fill="#1e1e1e"/>
<rect x="218.30" y="288.55" width="2.1" height="2.1" rx="0.5" fill="#1e1e1e"/>
<rect x="218.60" y="305.45" width="2.1" height="2.1" rx="0.5" fill="#1e1e1e"/>
<rect x="222.25" y="305.45" width="2.1" height="2.1" rx="0.5" fill="#1e1e1e"/>
<rect x="225.90" y="305.45" width="2.1" height="2.1" rx="0.5" fill="#1e1e1e"/>
<rect x="242.60" y="342.45" width="2.1" height="2.1" rx="0.5" fill="#1e1e1e"/>
<rect x="246.25" y="342.45" width="2.1" height="2.1" rx="0.5" fill="#1e1e1e"/>
<rect x="249.90" y="342.45" width="2.1" height="2.1" rx="0.5" fill="#1e1e1e"/>
<polyline points="326.80,211.00 559.20,211.00 559.20,350.20" fill="none" stroke="#383838" stroke-width="1.6" stroke-linejoin="miter"/>
<line x1="326.80" y1="210.30" x2="326.80" y2="350.90" stroke="#111" stroke-width="1.6"/>
<line x1="326.10" y1="350.20" x2="559.90" y2="350.20" stroke="#111" stroke-width="1.6"/>
<line x1="323.30" y1="211.00" x2="326.80" y2="211.00" stroke="#111" stroke-width="1.2"/>
<text x="321.20" y="214.20" font-size="8.9" text-anchor="end" font-weight="normal" fill="#2a2a2a" class="tk">10</text>
<line x1="324.80" y1="243.43" x2="326.80" y2="243.43" stroke="#111" stroke-width="0.9"/>
<line x1="324.80" y1="235.26" x2="326.80" y2="235.26" stroke="#111" stroke-width="0.9"/>
<line x1="324.80" y1="229.46" x2="326.80" y2="229.46" stroke="#111" stroke-width="0.9"/>
<line x1="324.80" y1="224.97" x2="326.80" y2="224.97" stroke="#111" stroke-width="0.9"/>
<line x1="324.80" y1="221.29" x2="326.80" y2="221.29" stroke="#111" stroke-width="0.9"/>
<line x1="324.80" y1="218.19" x2="326.80" y2="218.19" stroke="#111" stroke-width="0.9"/>
<line x1="324.80" y1="215.50" x2="326.80" y2="215.50" stroke="#111" stroke-width="0.9"/>
<line x1="324.80" y1="213.12" x2="326.80" y2="213.12" stroke="#111" stroke-width="0.9"/>
<line x1="323.30" y1="257.40" x2="326.80" y2="257.40" stroke="#111" stroke-width="1.2"/>
<text x="321.20" y="260.60" font-size="8.9" text-anchor="end" font-weight="normal" fill="#2a2a2a" class="tk">1</text>
<line x1="324.80" y1="289.83" x2="326.80" y2="289.83" stroke="#111" stroke-width="0.9"/>
<line x1="324.80" y1="281.66" x2="326.80" y2="281.66" stroke="#111" stroke-width="0.9"/>
<line x1="324.80" y1="275.86" x2="326.80" y2="275.86" stroke="#111" stroke-width="0.9"/>
<line x1="324.80" y1="271.37" x2="326.80" y2="271.37" stroke="#111" stroke-width="0.9"/>
<line x1="324.80" y1="267.69" x2="326.80" y2="267.69" stroke="#111" stroke-width="0.9"/>
<line x1="324.80" y1="264.59" x2="326.80" y2="264.59" stroke="#111" stroke-width="0.9"/>
<line x1="324.80" y1="261.90" x2="326.80" y2="261.90" stroke="#111" stroke-width="0.9"/>
<line x1="324.80" y1="259.52" x2="326.80" y2="259.52" stroke="#111" stroke-width="0.9"/>
<line x1="323.30" y1="303.80" x2="326.80" y2="303.80" stroke="#111" stroke-width="1.2"/>
<text x="321.20" y="307.00" font-size="8.9" text-anchor="end" font-weight="normal" fill="#2a2a2a" class="tk">0.1</text>
<line x1="324.80" y1="336.23" x2="326.80" y2="336.23" stroke="#111" stroke-width="0.9"/>
<line x1="324.80" y1="328.06" x2="326.80" y2="328.06" stroke="#111" stroke-width="0.9"/>
<line x1="324.80" y1="322.26" x2="326.80" y2="322.26" stroke="#111" stroke-width="0.9"/>
<line x1="324.80" y1="317.77" x2="326.80" y2="317.77" stroke="#111" stroke-width="0.9"/>
<line x1="324.80" y1="314.09" x2="326.80" y2="314.09" stroke="#111" stroke-width="0.9"/>
<line x1="324.80" y1="310.99" x2="326.80" y2="310.99" stroke="#111" stroke-width="0.9"/>
<line x1="324.80" y1="308.30" x2="326.80" y2="308.30" stroke="#111" stroke-width="0.9"/>
<line x1="324.80" y1="305.92" x2="326.80" y2="305.92" stroke="#111" stroke-width="0.9"/>
<line x1="323.30" y1="350.20" x2="326.80" y2="350.20" stroke="#111" stroke-width="1.2"/>
<text x="321.20" y="353.40" font-size="8.9" text-anchor="end" font-weight="normal" fill="#2a2a2a" class="tk">0.01</text>
<line x1="326.80" y1="350.20" x2="326.80" y2="353.70" stroke="#111" stroke-width="1.2"/>
<line x1="344.29" y1="350.20" x2="344.29" y2="352.20" stroke="#111" stroke-width="0.9"/>
<line x1="354.52" y1="350.20" x2="354.52" y2="352.20" stroke="#111" stroke-width="0.9"/>
<line x1="361.78" y1="350.20" x2="361.78" y2="352.20" stroke="#111" stroke-width="0.9"/>
<line x1="367.41" y1="350.20" x2="367.41" y2="352.20" stroke="#111" stroke-width="0.9"/>
<line x1="372.01" y1="350.20" x2="372.01" y2="352.20" stroke="#111" stroke-width="0.9"/>
<line x1="375.90" y1="350.20" x2="375.90" y2="352.20" stroke="#111" stroke-width="0.9"/>
<line x1="379.27" y1="350.20" x2="379.27" y2="352.20" stroke="#111" stroke-width="0.9"/>
<line x1="382.24" y1="350.20" x2="382.24" y2="352.20" stroke="#111" stroke-width="0.9"/>
<line x1="384.90" y1="350.20" x2="384.90" y2="353.70" stroke="#111" stroke-width="1.2"/>
<line x1="402.39" y1="350.20" x2="402.39" y2="352.20" stroke="#111" stroke-width="0.9"/>
<line x1="412.62" y1="350.20" x2="412.62" y2="352.20" stroke="#111" stroke-width="0.9"/>
<line x1="419.88" y1="350.20" x2="419.88" y2="352.20" stroke="#111" stroke-width="0.9"/>
<line x1="425.51" y1="350.20" x2="425.51" y2="352.20" stroke="#111" stroke-width="0.9"/>
<line x1="430.11" y1="350.20" x2="430.11" y2="352.20" stroke="#111" stroke-width="0.9"/>
<line x1="434.00" y1="350.20" x2="434.00" y2="352.20" stroke="#111" stroke-width="0.9"/>
<line x1="437.37" y1="350.20" x2="437.37" y2="352.20" stroke="#111" stroke-width="0.9"/>
<line x1="440.34" y1="350.20" x2="440.34" y2="352.20" stroke="#111" stroke-width="0.9"/>
<line x1="443.00" y1="350.20" x2="443.00" y2="353.70" stroke="#111" stroke-width="1.2"/>
<line x1="460.49" y1="350.20" x2="460.49" y2="352.20" stroke="#111" stroke-width="0.9"/>
<line x1="470.72" y1="350.20" x2="470.72" y2="352.20" stroke="#111" stroke-width="0.9"/>
<line x1="477.98" y1="350.20" x2="477.98" y2="352.20" stroke="#111" stroke-width="0.9"/>
<line x1="483.61" y1="350.20" x2="483.61" y2="352.20" stroke="#111" stroke-width="0.9"/>
<line x1="488.21" y1="350.20" x2="488.21" y2="352.20" stroke="#111" stroke-width="0.9"/>
<line x1="492.10" y1="350.20" x2="492.10" y2="352.20" stroke="#111" stroke-width="0.9"/>
<line x1="495.47" y1="350.20" x2="495.47" y2="352.20" stroke="#111" stroke-width="0.9"/>
<line x1="498.44" y1="350.20" x2="498.44" y2="352.20" stroke="#111" stroke-width="0.9"/>
<line x1="501.10" y1="350.20" x2="501.10" y2="353.70" stroke="#111" stroke-width="1.2"/>
<line x1="518.59" y1="350.20" x2="518.59" y2="352.20" stroke="#111" stroke-width="0.9"/>
<line x1="528.82" y1="350.20" x2="528.82" y2="352.20" stroke="#111" stroke-width="0.9"/>
<line x1="536.08" y1="350.20" x2="536.08" y2="352.20" stroke="#111" stroke-width="0.9"/>
<line x1="541.71" y1="350.20" x2="541.71" y2="352.20" stroke="#111" stroke-width="0.9"/>
<line x1="546.31" y1="350.20" x2="546.31" y2="352.20" stroke="#111" stroke-width="0.9"/>
<line x1="550.20" y1="350.20" x2="550.20" y2="352.20" stroke="#111" stroke-width="0.9"/>
<line x1="553.57" y1="350.20" x2="553.57" y2="352.20" stroke="#111" stroke-width="0.9"/>
<line x1="556.54" y1="350.20" x2="556.54" y2="352.20" stroke="#111" stroke-width="0.9"/>
<line x1="559.20" y1="350.20" x2="559.20" y2="353.70" stroke="#111" stroke-width="1.2"/>
<text x="326.80" y="363.30" font-size="8.9" text-anchor="middle" font-weight="normal" fill="#2a2a2a" class="tk">0.1</text>
<text x="384.90" y="363.30" font-size="8.9" text-anchor="middle" font-weight="normal" fill="#2a2a2a" class="tk">1</text>
<text x="443.00" y="363.30" font-size="8.9" text-anchor="middle" font-weight="normal" fill="#2a2a2a" class="tk">10</text>
<text x="501.10" y="363.30" font-size="8.9" text-anchor="middle" font-weight="normal" fill="#2a2a2a" class="tk">100</text>
<text x="559.20" y="363.30" font-size="8.9" text-anchor="middle" font-weight="normal" fill="#2a2a2a" class="tk">1000</text>
<text x="443.00" y="374.70" font-size="10.7" text-anchor="middle" font-weight="normal" fill="#000">Etoposide (nM)</text>
<line x1="326.80" y1="257.40" x2="559.20" y2="257.40" stroke="#111" stroke-width="1.1" stroke-dasharray="2.1 1.3"/>
<line x1="333.80" y1="220.80" x2="344.30" y2="220.80" stroke="#000" stroke-width="1.3"/>
<rect x="336.80" y="218.40" width="4.80" height="4.80" fill="#000"/>
<text x="348.30" y="224.00" font-size="9.2" text-anchor="start" font-weight="normal" fill="#000">Isotype control mAb</text>
<line x1="333.80" y1="231.40" x2="344.30" y2="231.40" stroke="#6b6b6b" stroke-width="1.3"/>
<rect x="336.80" y="229.00" width="4.80" height="4.80" fill="#6b6b6b"/>
<text x="348.30" y="234.60" font-size="9.2" text-anchor="start" font-weight="normal" fill="#000">Anti-ABCB5 mAb</text>
<polyline points="384.80,261.00 442.40,260.20 465.40,260.20 482.90,261.00 500.00,264.90 522.90,286.30" fill="none" stroke="#000" stroke-width="1.5" stroke-linejoin="round"/>
<polyline points="384.80,254.80 442.40,257.70 465.40,257.70 482.90,263.40 500.00,271.30 522.90,298.10" fill="none" stroke="#6b6b6b" stroke-width="1.1" stroke-linejoin="round"/>
<line x1="522.90" y1="280.70" x2="522.90" y2="293.50" stroke="#000" stroke-width="1.1"/>
<line x1="520.10" y1="280.70" x2="525.70" y2="280.70" stroke="#000" stroke-width="1.1"/>
<line x1="520.10" y1="293.50" x2="525.70" y2="293.50" stroke="#000" stroke-width="1.1"/>
<line x1="522.90" y1="293.50" x2="522.90" y2="302.60" stroke="#6b6b6b" stroke-width="1.1"/>
<line x1="520.10" y1="293.50" x2="525.70" y2="293.50" stroke="#6b6b6b" stroke-width="1.1"/>
<line x1="520.10" y1="302.60" x2="525.70" y2="302.60" stroke="#6b6b6b" stroke-width="1.1"/>
<rect x="382.30" y="258.50" width="5.00" height="5.00" fill="#000"/>
<rect x="439.90" y="257.70" width="5.00" height="5.00" fill="#000"/>
<rect x="462.90" y="257.70" width="5.00" height="5.00" fill="#000"/>
<rect x="480.40" y="258.50" width="5.00" height="5.00" fill="#000"/>
<rect x="497.50" y="262.40" width="5.00" height="5.00" fill="#000"/>
<rect x="520.40" y="283.80" width="5.00" height="5.00" fill="#000"/>
<rect x="382.30" y="252.30" width="5.00" height="5.00" fill="#6b6b6b"/>
<rect x="439.90" y="255.20" width="5.00" height="5.00" fill="#6b6b6b"/>
<rect x="462.90" y="255.20" width="5.00" height="5.00" fill="#6b6b6b"/>
<rect x="480.40" y="260.90" width="5.00" height="5.00" fill="#6b6b6b"/>
<rect x="497.50" y="268.80" width="5.00" height="5.00" fill="#6b6b6b"/>
<rect x="520.40" y="295.60" width="5.00" height="5.00" fill="#6b6b6b"/>
<rect x="491.60" y="275.15" width="2.1" height="2.1" rx="0.5" fill="#1e1e1e"/>
<rect x="495.25" y="275.15" width="2.1" height="2.1" rx="0.5" fill="#1e1e1e"/>
<rect x="498.90" y="275.15" width="2.1" height="2.1" rx="0.5" fill="#1e1e1e"/>
<text x="10.50" y="90.50" font-size="12" text-anchor="middle" font-weight="normal" fill="#000" transform="rotate(-90 10.5 90.5)">MKL-1</text>
<text x="10.50" y="285.50" font-size="12" text-anchor="middle" font-weight="normal" fill="#000" transform="rotate(-90 10.5 285.5)">WaGa</text>
<text x="22.50" y="87.50" font-size="10.75" text-anchor="middle" font-weight="normal" fill="#000" transform="rotate(-90 22.5 87.5)">Surviving cell fraction</text>
<text x="22.50" y="282.50" font-size="10.75" text-anchor="middle" font-weight="normal" fill="#000" transform="rotate(-90 22.5 282.5)">Surviving cell fraction</text>
<text x="305.90" y="87.50" font-size="10.75" text-anchor="middle" font-weight="normal" fill="#000" transform="rotate(-90 305.9 87.5)">Surviving cell fraction</text>
<text x="305.90" y="282.50" font-size="10.75" text-anchor="middle" font-weight="normal" fill="#000" transform="rotate(-90 305.9 282.5)">Surviving cell fraction</text>
<text x="0.50" y="15.20" font-size="20" text-anchor="start" font-weight="bold" fill="#000">a</text>
<text x="591.00" y="16.20" font-size="20" text-anchor="start" font-weight="bold" fill="#000">b</text>
<text x="0.20" y="405.60" font-size="20" text-anchor="start" font-weight="bold" fill="#000">c</text>
<text x="296.00" y="408.90" font-size="20" text-anchor="start" font-weight="bold" fill="#000">d</text>
<line x1="636.30" y1="155.60" x2="636.30" y2="15.10" stroke="#111" stroke-width="1.4"/>
<line x1="633.50" y1="154.90" x2="636.30" y2="154.90" stroke="#111" stroke-width="1.2"/>
<text x="631.10" y="158.10" font-size="9.0" text-anchor="end" font-weight="normal" fill="#2a2a2a" class="tk">0</text>
<line x1="633.50" y1="120.10" x2="636.30" y2="120.10" stroke="#111" stroke-width="1.2"/>
<text x="631.10" y="123.30" font-size="9.0" text-anchor="end" font-weight="normal" fill="#2a2a2a" class="tk">10</text>
<line x1="633.50" y1="85.30" x2="636.30" y2="85.30" stroke="#111" stroke-width="1.2"/>
<text x="631.10" y="88.50" font-size="9.0" text-anchor="end" font-weight="normal" fill="#2a2a2a" class="tk">20</text>
<line x1="633.50" y1="50.50" x2="636.30" y2="50.50" stroke="#111" stroke-width="1.2"/>
<text x="631.10" y="53.70" font-size="9.0" text-anchor="end" font-weight="normal" fill="#2a2a2a" class="tk">30</text>
<line x1="633.50" y1="15.70" x2="636.30" y2="15.70" stroke="#111" stroke-width="1.2"/>
<text x="631.10" y="18.90" font-size="9.0" text-anchor="end" font-weight="normal" fill="#2a2a2a" class="tk">40</text>
<line x1="635.60" y1="154.90" x2="712.50" y2="154.90" stroke="#111" stroke-width="1.4"/>
<rect x="642.20" y="53.50" width="24.80" height="101.40" fill="#000"/>
<line x1="654.40" y1="53.50" x2="654.40" y2="50.20" stroke="#111" stroke-width="1.2"/>
<line x1="650.70" y1="50.20" x2="660.80" y2="50.20" stroke="#111" stroke-width="1.2"/>
<line x1="654.40" y1="154.90" x2="654.40" y2="157.70" stroke="#111" stroke-width="1.1"/>
<rect x="681.30" y="64.20" width="24.10" height="90.70" fill="#808080" stroke="#111" stroke-width="1.2"/>
<line x1="693.60" y1="63.60" x2="693.60" y2="56.40" stroke="#111" stroke-width="1.2"/>
<line x1="687.00" y1="56.40" x2="700.00" y2="56.40" stroke="#111" stroke-width="1.2"/>
<line x1="693.60" y1="154.90" x2="693.60" y2="157.70" stroke="#111" stroke-width="1.1"/>
<polyline points="654.30,45.40 654.30,41.30 693.00,41.30 693.00,45.40" fill="none" stroke="#1a1a1a" stroke-width="1.15" stroke-linejoin="miter"/>
<text x="674.00" y="39.70" font-size="7.7" text-anchor="middle" font-weight="normal" fill="#000">NS</text>
<text x="654.40" y="168.20" font-size="9.2" text-anchor="middle" font-weight="normal" fill="#000">Isotype</text>
<text x="654.40" y="179.20" font-size="9.2" text-anchor="middle" font-weight="normal" fill="#000">control</text>
<text x="654.40" y="190.20" font-size="9.2" text-anchor="middle" font-weight="normal" fill="#000">mAb</text>
<text x="693.60" y="168.20" font-size="9.2" text-anchor="middle" font-weight="normal" fill="#000">Anti-</text>
<text x="693.60" y="179.20" font-size="9.2" text-anchor="middle" font-weight="normal" fill="#000">ABCB5</text>
<text x="693.60" y="190.20" font-size="9.2" text-anchor="middle" font-weight="normal" fill="#000">mAb</text>
<line x1="636.10" y1="350.50" x2="636.10" y2="210.40" stroke="#111" stroke-width="1.4"/>
<line x1="633.30" y1="349.80" x2="636.10" y2="349.80" stroke="#111" stroke-width="1.2"/>
<text x="630.90" y="353.00" font-size="9.0" text-anchor="end" font-weight="normal" fill="#2a2a2a" class="tk">0</text>
<line x1="633.30" y1="303.53" x2="636.10" y2="303.53" stroke="#111" stroke-width="1.2"/>
<text x="630.90" y="306.73" font-size="9.0" text-anchor="end" font-weight="normal" fill="#2a2a2a" class="tk">5</text>
<line x1="633.30" y1="257.26" x2="636.10" y2="257.26" stroke="#111" stroke-width="1.2"/>
<text x="630.90" y="260.46" font-size="9.0" text-anchor="end" font-weight="normal" fill="#2a2a2a" class="tk">10</text>
<line x1="633.30" y1="210.99" x2="636.10" y2="210.99" stroke="#111" stroke-width="1.2"/>
<text x="630.90" y="214.19" font-size="9.0" text-anchor="end" font-weight="normal" fill="#2a2a2a" class="tk">15</text>
<line x1="635.40" y1="349.80" x2="712.50" y2="349.80" stroke="#111" stroke-width="1.4"/>
<rect x="642.20" y="253.60" width="24.80" height="96.20" fill="#000"/>
<line x1="654.40" y1="253.60" x2="654.40" y2="246.30" stroke="#111" stroke-width="1.2"/>
<line x1="649.40" y1="246.30" x2="660.30" y2="246.30" stroke="#111" stroke-width="1.2"/>
<line x1="654.40" y1="349.80" x2="654.40" y2="352.60" stroke="#111" stroke-width="1.1"/>
<rect x="681.30" y="240.20" width="24.10" height="109.60" fill="#808080" stroke="#111" stroke-width="1.2"/>
<line x1="693.60" y1="239.60" x2="693.60" y2="232.50" stroke="#111" stroke-width="1.2"/>
<line x1="687.20" y1="232.50" x2="699.90" y2="232.50" stroke="#111" stroke-width="1.2"/>
<line x1="693.60" y1="349.80" x2="693.60" y2="352.60" stroke="#111" stroke-width="1.1"/>
<polyline points="654.40,227.40 654.40,223.60 693.30,223.60 693.30,227.40" fill="none" stroke="#1a1a1a" stroke-width="1.15" stroke-linejoin="miter"/>
<text x="674.30" y="221.80" font-size="7.7" text-anchor="middle" font-weight="normal" fill="#000">NS</text>
<text x="654.40" y="362.90" font-size="9.2" text-anchor="middle" font-weight="normal" fill="#000">Isotype</text>
<text x="654.40" y="373.90" font-size="9.2" text-anchor="middle" font-weight="normal" fill="#000">control</text>
<text x="654.40" y="384.90" font-size="9.2" text-anchor="middle" font-weight="normal" fill="#000">mAb</text>
<text x="693.60" y="362.90" font-size="9.2" text-anchor="middle" font-weight="normal" fill="#000">Anti-</text>
<text x="693.60" y="373.90" font-size="9.2" text-anchor="middle" font-weight="normal" fill="#000">ABCB5</text>
<text x="693.60" y="384.90" font-size="9.2" text-anchor="middle" font-weight="normal" fill="#000">mAb</text>
<text x="601.80" y="86.00" font-size="12" text-anchor="middle" font-weight="normal" fill="#000" transform="rotate(-90 601.8 86)">MKL-1</text>
<text x="612.10" y="86.00" font-size="10.75" text-anchor="middle" font-weight="normal" fill="#000" transform="rotate(-90 612.1 86)">Cell death (%)</text>
<text x="600.80" y="279.00" font-size="12" text-anchor="middle" font-weight="normal" fill="#000" transform="rotate(-90 600.8 279)">WaGa</text>
<text x="611.10" y="279.00" font-size="10.75" text-anchor="middle" font-weight="normal" fill="#000" transform="rotate(-90 611.1 279)">Cell death (%)</text>
<line x1="43.60" y1="536.90" x2="43.60" y2="423.60" stroke="#111" stroke-width="1.2"/>
<line x1="40.80" y1="536.20" x2="43.60" y2="536.20" stroke="#111" stroke-width="1.2"/>
<text x="39.30" y="539.40" font-size="9.0" text-anchor="end" font-weight="normal" fill="#2a2a2a" class="tk">0.0</text>
<line x1="40.80" y1="508.20" x2="43.60" y2="508.20" stroke="#111" stroke-width="1.2"/>
<text x="39.30" y="511.40" font-size="9.0" text-anchor="end" font-weight="normal" fill="#2a2a2a" class="tk">0.5</text>
<line x1="40.80" y1="480.20" x2="43.60" y2="480.20" stroke="#111" stroke-width="1.2"/>
<text x="39.30" y="483.40" font-size="9.0" text-anchor="end" font-weight="normal" fill="#2a2a2a" class="tk">1.0</text>
<line x1="40.80" y1="452.20" x2="43.60" y2="452.20" stroke="#111" stroke-width="1.2"/>
<text x="39.30" y="455.40" font-size="9.0" text-anchor="end" font-weight="normal" fill="#2a2a2a" class="tk">1.5</text>
<line x1="40.80" y1="424.20" x2="43.60" y2="424.20" stroke="#111" stroke-width="1.2"/>
<text x="39.30" y="427.40" font-size="9.0" text-anchor="end" font-weight="normal" fill="#2a2a2a" class="tk">2.0</text>
<line x1="42.90" y1="536.20" x2="121.00" y2="536.20" stroke="#111" stroke-width="1.2"/>
<rect x="50.20" y="480.10" width="26.40" height="56.10" fill="#000"/>
<line x1="63.40" y1="480.10" x2="63.40" y2="474.50" stroke="#111" stroke-width="1.2"/>
<line x1="57.20" y1="474.50" x2="69.80" y2="474.50" stroke="#111" stroke-width="1.2"/>
<line x1="63.40" y1="536.20" x2="63.40" y2="539.00" stroke="#111" stroke-width="1.1"/>
<rect x="89.30" y="451.70" width="25.00" height="84.50" fill="#808080" stroke="#111" stroke-width="1.2"/>
<line x1="101.80" y1="451.10" x2="101.80" y2="435.50" stroke="#111" stroke-width="1.2"/>
<line x1="95.90" y1="435.50" x2="108.50" y2="435.50" stroke="#111" stroke-width="1.2"/>
<line x1="101.80" y1="536.20" x2="101.80" y2="539.00" stroke="#111" stroke-width="1.1"/>
<polyline points="63.10,427.10 63.10,423.60 101.80,423.60 101.80,427.10" fill="none" stroke="#1a1a1a" stroke-width="1.15" stroke-linejoin="miter"/>
<text x="81.90" y="425.50" font-size="9" text-anchor="middle" font-weight="bold" fill="#000" letter-spacing="0.4">*</text>
<text x="63.40" y="548.80" font-size="9.2" text-anchor="middle" font-weight="normal" fill="#000">Isotype</text>
<text x="63.40" y="558.90" font-size="9.2" text-anchor="middle" font-weight="normal" fill="#000">control</text>
<text x="63.40" y="569.20" font-size="9.2" text-anchor="middle" font-weight="normal" fill="#000">mAb</text>
<text x="101.80" y="548.80" font-size="9.2" text-anchor="middle" font-weight="normal" fill="#000">Anti-</text>
<text x="101.80" y="558.90" font-size="9.2" text-anchor="middle" font-weight="normal" fill="#000">ABCB5</text>
<text x="101.80" y="569.20" font-size="9.2" text-anchor="middle" font-weight="normal" fill="#000">mAb</text>
<line x1="198.50" y1="536.90" x2="198.50" y2="423.60" stroke="#111" stroke-width="1.2"/>
<line x1="195.70" y1="536.20" x2="198.50" y2="536.20" stroke="#111" stroke-width="1.2"/>
<text x="194.10" y="539.40" font-size="9.0" text-anchor="end" font-weight="normal" fill="#2a2a2a" class="tk">0</text>
<line x1="195.70" y1="508.20" x2="198.50" y2="508.20" stroke="#111" stroke-width="1.2"/>
<text x="194.10" y="511.40" font-size="9.0" text-anchor="end" font-weight="normal" fill="#2a2a2a" class="tk">1</text>
<line x1="195.70" y1="480.20" x2="198.50" y2="480.20" stroke="#111" stroke-width="1.2"/>
<text x="194.10" y="483.40" font-size="9.0" text-anchor="end" font-weight="normal" fill="#2a2a2a" class="tk">2</text>
<line x1="195.70" y1="452.20" x2="198.50" y2="452.20" stroke="#111" stroke-width="1.2"/>
<text x="194.10" y="455.40" font-size="9.0" text-anchor="end" font-weight="normal" fill="#2a2a2a" class="tk">3</text>
<line x1="195.70" y1="424.20" x2="198.50" y2="424.20" stroke="#111" stroke-width="1.2"/>
<text x="194.10" y="427.40" font-size="9.0" text-anchor="end" font-weight="normal" fill="#2a2a2a" class="tk">4</text>
<line x1="197.80" y1="536.20" x2="275.70" y2="536.20" stroke="#111" stroke-width="1.2"/>
<rect x="205.60" y="507.90" width="25.90" height="28.30" fill="#000"/>
<line x1="218.30" y1="507.90" x2="218.30" y2="502.80" stroke="#111" stroke-width="1.2"/>
<line x1="212.40" y1="502.80" x2="225.20" y2="502.80" stroke="#111" stroke-width="1.2"/>
<line x1="218.30" y1="536.20" x2="218.30" y2="539.00" stroke="#111" stroke-width="1.1"/>
<rect x="244.60" y="459.60" width="24.60" height="76.60" fill="#808080" stroke="#111" stroke-width="1.2"/>
<line x1="256.00" y1="459.00" x2="256.00" y2="438.50" stroke="#111" stroke-width="1.2"/>
<line x1="251.00" y1="438.50" x2="263.60" y2="438.50" stroke="#111" stroke-width="1.2"/>
<line x1="256.00" y1="536.20" x2="256.00" y2="539.00" stroke="#111" stroke-width="1.1"/>
<polyline points="218.40,427.10 218.40,423.60 257.20,423.60 257.20,427.10" fill="none" stroke="#1a1a1a" stroke-width="1.15" stroke-linejoin="miter"/>
<text x="238.10" y="425.10" font-size="9" text-anchor="middle" font-weight="bold" fill="#000" letter-spacing="0.4">**</text>
<text x="218.30" y="549.10" font-size="9.2" text-anchor="middle" font-weight="normal" fill="#000">Isotype</text>
<text x="218.30" y="559.90" font-size="9.2" text-anchor="middle" font-weight="normal" fill="#000">control</text>
<text x="218.30" y="570.50" font-size="9.2" text-anchor="middle" font-weight="normal" fill="#000">mAb</text>
<text x="256.00" y="549.10" font-size="9.2" text-anchor="middle" font-weight="normal" fill="#000">Anti-</text>
<text x="256.00" y="559.90" font-size="9.2" text-anchor="middle" font-weight="normal" fill="#000">ABCB5</text>
<text x="256.00" y="570.50" font-size="9.2" text-anchor="middle" font-weight="normal" fill="#000">mAb</text>
<text x="83.00" y="409.40" font-size="12" text-anchor="middle" font-weight="normal" fill="#000">MKL-1</text>
<text x="238.00" y="409.40" font-size="12" text-anchor="middle" font-weight="normal" fill="#000">WaGa</text>
<text x="8.50" y="479.80" font-size="9.4" text-anchor="middle" font-weight="normal" fill="#000" transform="rotate(-90 8.5 479.8)">Relative ABCB5</text>
<text x="19.80" y="480.40" font-size="9.4" text-anchor="middle" font-weight="normal" fill="#000" transform="rotate(-90 19.8 480.4)">mRNA expression</text>
<text x="164.40" y="479.80" font-size="9.4" text-anchor="middle" font-weight="normal" fill="#000" transform="rotate(-90 164.4 479.8)">Relative ABCB5</text>
<text x="175.30" y="480.40" font-size="9.4" text-anchor="middle" font-weight="normal" fill="#000" transform="rotate(-90 175.3 480.4)">mRNA expression</text>
<line x1="591.50" y1="536.90" x2="591.50" y2="423.40" stroke="#111" stroke-width="1.4"/>
<line x1="588.70" y1="536.20" x2="591.50" y2="536.20" stroke="#111" stroke-width="1.2"/>
<text x="586.20" y="539.40" font-size="9.0" text-anchor="end" font-weight="normal" fill="#2a2a2a" class="tk">0</text>
<line x1="588.70" y1="513.76" x2="591.50" y2="513.76" stroke="#111" stroke-width="1.2"/>
<text x="586.20" y="516.96" font-size="9.0" text-anchor="end" font-weight="normal" fill="#2a2a2a" class="tk">5</text>
<line x1="588.70" y1="491.32" x2="591.50" y2="491.32" stroke="#111" stroke-width="1.2"/>
<text x="586.20" y="494.52" font-size="9.0" text-anchor="end" font-weight="normal" fill="#2a2a2a" class="tk">10</text>
<line x1="588.70" y1="468.88" x2="591.50" y2="468.88" stroke="#111" stroke-width="1.2"/>
<text x="586.20" y="472.08" font-size="9.0" text-anchor="end" font-weight="normal" fill="#2a2a2a" class="tk">15</text>
<line x1="588.70" y1="446.44" x2="591.50" y2="446.44" stroke="#111" stroke-width="1.2"/>
<text x="586.20" y="449.64" font-size="9.0" text-anchor="end" font-weight="normal" fill="#2a2a2a" class="tk">20</text>
<line x1="588.70" y1="424.00" x2="591.50" y2="424.00" stroke="#111" stroke-width="1.2"/>
<text x="586.20" y="427.20" font-size="9.0" text-anchor="end" font-weight="normal" fill="#2a2a2a" class="tk">25</text>
<line x1="590.80" y1="536.20" x2="711.00" y2="536.20" stroke="#111" stroke-width="1.4"/>
<line x1="612.60" y1="536.20" x2="612.60" y2="532.60" stroke="#111" stroke-width="1.2"/>
<line x1="606.80" y1="532.60" x2="618.40" y2="532.60" stroke="#111" stroke-width="1.2"/>
<line x1="612.60" y1="536.20" x2="612.60" y2="539.00" stroke="#111" stroke-width="1.1"/>
<rect x="641.10" y="450.10" width="24.50" height="86.10" fill="#000"/>
<line x1="653.30" y1="450.10" x2="653.30" y2="435.30" stroke="#111" stroke-width="1.2"/>
<line x1="648.00" y1="435.30" x2="659.80" y2="435.30" stroke="#111" stroke-width="1.2"/>
<line x1="653.30" y1="536.20" x2="653.30" y2="539.00" stroke="#111" stroke-width="1.1"/>
<rect x="682.00" y="503.80" width="23.30" height="32.40" fill="#808080" stroke="#111" stroke-width="1.2"/>
<line x1="693.50" y1="503.20" x2="693.50" y2="497.20" stroke="#111" stroke-width="1.2"/>
<line x1="686.00" y1="497.20" x2="699.90" y2="497.20" stroke="#111" stroke-width="1.2"/>
<line x1="693.50" y1="536.20" x2="693.50" y2="539.00" stroke="#111" stroke-width="1.1"/>
<polyline points="612.20,426.80 612.20,423.50 693.50,423.50 693.50,426.80" fill="none" stroke="#1a1a1a" stroke-width="1.15" stroke-linejoin="miter"/>
<text x="653.20" y="424.35" font-size="9" text-anchor="middle" font-weight="bold" fill="#000" letter-spacing="0.4">**</text>
<polyline points="612.20,433.70 612.20,430.50 650.50,430.50 650.50,433.70" fill="none" stroke="#1a1a1a" stroke-width="1.15" stroke-linejoin="miter"/>
<text x="632.10" y="431.50" font-size="9" text-anchor="middle" font-weight="bold" fill="#000" letter-spacing="0.4">**</text>
<polyline points="656.30,433.70 656.30,430.50 693.50,430.50 693.50,433.70" fill="none" stroke="#1a1a1a" stroke-width="1.15" stroke-linejoin="miter"/>
<text x="674.40" y="431.50" font-size="9" text-anchor="middle" font-weight="bold" fill="#000" letter-spacing="0.4">*</text>
<text x="614.70" y="551.40" font-size="9.2" text-anchor="middle" font-weight="normal" fill="#000">ATP-</text>
<text x="614.70" y="563.00" font-size="9.2" text-anchor="middle" font-weight="normal" fill="#000">hydrolysis</text>
<text x="614.70" y="573.30" font-size="9.2" text-anchor="middle" font-weight="normal" fill="#000">inhibition</text>
<text x="653.30" y="551.40" font-size="9.2" text-anchor="middle" font-weight="normal" fill="#000">Isotype</text>
<text x="653.30" y="563.00" font-size="9.2" text-anchor="middle" font-weight="normal" fill="#000">control</text>
<text x="653.30" y="573.30" font-size="9.2" text-anchor="middle" font-weight="normal" fill="#000">mAb</text>
<text x="693.70" y="551.40" font-size="9.2" text-anchor="middle" font-weight="normal" fill="#000">Anti-</text>
<text x="693.70" y="563.00" font-size="9.2" text-anchor="middle" font-weight="normal" fill="#000">ABCB5</text>
<text x="693.70" y="573.30" font-size="9.2" text-anchor="middle" font-weight="normal" fill="#000">mAb</text>
<text x="557.00" y="480.00" font-size="10.8" text-anchor="middle" font-weight="normal" fill="#000" transform="rotate(-90 557 480)">Rhodamine 123</text>
<text x="566.80" y="480.00" font-size="10.9" text-anchor="middle" font-weight="normal" fill="#000" transform="rotate(-90 566.8 480)">effluxing cells (%)</text>
<polygon points="350.0,535.6 350.9,535.6 351.8,535.5 352.7,535.5 353.6,535.5 354.5,535.4 355.5,535.4 356.4,535.3 357.3,535.3 358.2,535.3 359.1,535.2 360.0,535.2 361.0,535.1 361.9,535.1 362.9,535.0 363.8,535.0 364.8,534.9 365.7,534.9 366.7,534.8 367.6,534.7 368.6,534.8 369.5,534.6 370.5,534.7 371.4,534.3 372.3,534.0 373.2,533.7 374.1,533.4 375.0,533.4 375.9,532.8 376.8,532.7 377.9,532.5 378.9,532.2 380.0,532.0 380.9,531.5 381.8,531.2 382.7,531.1 383.6,531.2 384.5,530.8 385.4,530.4 386.3,530.4 387.2,530.1 388.1,529.7 389.1,529.7 390.1,529.1 391.0,528.2 392.0,528.0 393.0,527.5 393.9,527.4 394.9,526.7 395.9,525.8 396.8,526.0 397.8,524.7 398.7,524.5 399.6,524.4 400.6,523.3 401.5,523.2 402.6,521.4 403.8,520.8 404.9,519.6 406.0,517.1 407.1,515.2 408.2,511.8 409.4,509.4 410.5,507.6 411.6,505.9 412.8,505.2 413.9,505.0 415.5,504.5 417.2,506.9 418.9,511.6 420.0,511.5 421.1,512.7 422.8,520.5 424.0,524.2 425.1,527.4 426.2,528.4 427.3,530.0 428.4,531.7 429.3,531.8 430.2,532.5 431.1,532.8 432.0,533.3 432.9,533.8 433.9,534.2 434.9,534.2 435.9,534.5 437.0,534.7 438.0,534.9 439.0,535.1 440.0,535.3 440.9,535.3 441.9,535.3 442.8,535.3 443.8,535.3 444.7,535.3 445.6,535.3 446.6,535.3 447.5,535.3 448.4,535.3 449.4,535.3 450.3,535.3 451.2,535.3 452.2,535.3 453.1,535.3 454.1,535.3 455.0,535.3 456.0,535.0 457.0,534.8 458.0,534.5 458.9,533.8 459.9,533.2 460.9,532.4 461.8,531.6 462.7,529.9 463.6,528.2 464.5,525.8 465.4,524.8 466.3,522.9 467.4,518.4 468.6,513.8 469.7,508.9 470.9,500.4 472.0,491.6 473.5,475.1 474.7,467.6 475.9,460.7 477.0,455.8 478.1,450.8 479.2,449.4 480.3,447.7 481.6,447.2 482.9,446.9 484.0,448.6 485.1,450.6 486.1,451.1 487.2,452.8 488.3,451.2 489.4,449.4 490.5,447.4 491.6,445.3 493.3,443.6 494.6,443.3 496.3,441.4 497.6,444.2 498.9,452.4 500.2,457.6 501.5,464.2 502.8,472.9 504.1,478.3 505.1,482.0 506.0,486.3 507.1,488.4 508.2,491.0 509.4,496.2 510.5,500.0 511.6,503.6 512.8,508.0 513.9,510.8 515.0,514.5 516.1,517.3 517.3,519.5 518.4,521.7 519.5,523.3 520.7,525.4 521.8,527.2 522.9,529.3 524.1,530.5 525.2,532.2 526.3,533.1 527.4,534.2 528.5,535.4 528.5,535.8 350,535.8" fill="#ababab" stroke="none"/>
<polyline points="327.60,535.41 328.52,535.34 329.44,535.25 330.36,535.18 331.28,535.10 332.20,535.02 333.12,534.90 334.04,534.84 334.96,534.75 335.88,534.63 336.80,534.54 337.74,534.38 338.69,534.18 339.63,534.07 340.58,533.94 341.52,533.64 342.47,533.58 343.41,533.41 344.36,533.22 345.30,532.86 346.23,532.57 347.17,532.33 348.10,532.08 349.03,531.84 349.97,531.79 350.90,531.69 351.83,531.44 352.77,531.02 353.70,530.89 354.60,530.61 355.50,529.79 356.40,529.80 357.30,529.60 358.20,529.14 359.10,528.75 360.00,528.18 360.90,527.31 361.80,527.08 362.70,526.10 363.60,525.77 364.50,525.23 365.40,524.15 366.30,523.47 367.20,523.17 368.10,522.34 369.00,521.27 370.10,519.54 371.20,517.86 372.90,513.38 374.60,511.61 375.70,507.25 376.80,503.83 377.95,499.99 379.10,495.81 380.80,490.60 382.40,489.53 383.55,488.54 384.70,487.76 386.40,489.83 388.10,491.90 389.20,491.07 390.30,490.60 392.00,492.25 393.70,495.36 394.80,497.03 395.90,498.30 397.00,500.28 398.10,502.26 399.80,507.82 401.50,512.56 403.20,515.73 404.90,521.44 406.00,524.04 407.10,527.39 408.23,528.33 409.37,529.74 410.50,531.14 411.43,531.66 412.37,531.80 413.30,532.37 414.23,532.57 415.17,532.94 416.10,533.31 417.06,533.40 418.01,533.72 418.97,533.88 419.93,534.07 420.89,534.41 421.84,534.55 422.80,534.80 423.77,534.92 424.74,535.00 425.71,535.09 426.69,535.20 427.66,535.30 428.63,535.41 429.60,535.50 430.55,535.51 431.49,535.52 432.44,535.53 433.38,535.54 434.33,535.55 435.27,535.55 436.22,535.56 437.16,535.57 438.11,535.58 439.05,535.59 440.00,535.60 440.91,535.57 441.82,535.55 442.73,535.52 443.64,535.49 444.55,535.46 445.45,535.44 446.36,535.41 447.27,535.39 448.18,535.37 449.09,535.32 450.00,535.30 451.00,535.05 452.00,534.77 453.00,534.41 454.00,534.12 455.00,533.89 455.90,532.62 456.80,531.50 457.70,530.23 458.60,529.46 459.50,528.40 460.42,526.90 461.34,524.80 462.26,523.61 463.18,521.99 464.10,520.05 465.23,516.80 466.37,513.09 467.50,508.80 468.60,503.67 469.70,497.63 470.85,492.59 472.00,487.84 473.70,482.03 474.83,481.36 475.97,481.35 477.10,481.21 478.25,483.64 479.40,486.09 480.50,489.57 481.60,493.26 483.30,497.86 484.45,496.29 485.60,494.26 486.53,492.83 487.47,491.92 488.40,490.99 489.37,490.51 490.33,489.80 491.30,490.04 492.40,487.10 493.50,484.43 494.65,482.67 495.80,481.64 496.90,480.93 498.00,480.90 499.15,479.69 500.30,478.74 501.43,478.95 502.57,479.29 503.70,479.22 504.83,479.76 505.97,480.62 507.10,482.09 508.25,482.40 509.40,483.04 510.50,486.61 511.60,490.59 512.75,495.53 513.90,499.85 515.05,502.45 516.20,505.91 517.30,509.09 518.40,512.61 519.55,515.51 520.70,519.45 521.85,521.70 523.00,525.05 523.93,526.67 524.87,528.49 525.80,530.53 526.95,532.37 528.10,533.90" fill="none" stroke="#1a1a1a" stroke-width="1.0" stroke-linejoin="round"/>
<polyline points="332.60,535.39 333.51,535.33 334.41,535.29 335.32,535.22 336.23,535.15 337.14,535.10 338.04,535.03 338.95,534.98 339.86,534.93 340.76,534.87 341.67,534.85 342.58,534.75 343.49,534.71 344.39,534.62 345.30,534.58 346.27,534.41 347.24,534.30 348.21,534.13 349.18,534.12 350.15,533.96 351.12,533.75 352.08,533.68 353.05,533.66 354.02,533.32 354.99,533.38 355.96,533.14 356.93,533.03 357.90,533.01 358.95,532.77 360.00,532.70 360.96,532.54 361.91,532.43 362.87,531.95 363.83,531.93 364.79,531.65 365.74,531.40 366.70,531.05 367.67,530.60 368.64,529.99 369.61,529.61 370.59,529.14 371.56,529.20 372.53,528.44 373.50,527.96 374.43,527.44 375.37,527.51 376.30,527.06 377.23,526.45 378.17,525.71 379.10,525.22 380.00,524.60 380.90,524.05 381.80,523.18 382.70,522.72 383.60,521.93 384.70,519.87 385.80,517.33 386.95,515.38 388.10,513.52 389.03,512.89 389.97,511.30 390.90,510.20 391.83,508.82 392.77,507.95 393.70,506.88 394.80,506.34 395.90,505.56 397.00,505.20 397.93,504.49 398.87,504.30 399.80,503.81 400.73,504.40 401.67,504.51 402.60,504.87 403.73,505.06 404.87,505.01 406.00,505.26 407.10,507.22 408.20,509.38 409.35,510.41 410.50,511.55 411.60,514.47 412.70,516.92 413.85,519.68 415.00,522.94 416.10,523.85 417.20,525.76 418.30,527.20 419.20,527.46 420.10,528.69 421.00,529.41 421.90,529.91 422.80,530.64 423.77,530.99 424.74,530.94 425.71,531.45 426.69,531.76 427.66,532.21 428.63,532.50 429.60,532.81 430.59,532.98 431.58,533.32 432.57,533.51 433.56,533.76 434.54,533.93 435.53,534.16 436.52,534.44 437.51,534.73 438.50,534.97 439.45,535.04 440.40,535.04 441.35,535.07 442.30,535.09 443.25,535.11 444.20,535.12 445.15,535.11 446.10,535.18 447.05,535.19 448.00,535.20 449.00,535.02 450.00,534.84 451.00,534.59 452.00,534.49 453.00,534.23 454.00,534.01 455.00,533.85 455.95,533.02 456.90,531.88 457.85,531.18 458.80,530.41 459.75,529.15 460.70,528.12 461.60,526.15 462.50,524.25 463.40,522.27 464.30,520.12 465.20,518.10 466.35,513.20 467.50,508.75 468.60,502.03 469.70,495.57 470.70,484.86 472.40,474.25 473.70,462.56 474.60,457.34 475.50,452.24 477.20,444.72 478.10,442.98 479.00,441.22 480.70,444.45 482.00,449.81 482.90,453.28 483.80,456.78 485.50,463.53 487.20,470.98 488.30,472.89 489.40,475.83 490.70,476.81 491.75,473.71 492.80,471.57 493.70,470.07 494.60,468.43 496.30,469.76 497.60,471.39 498.90,473.10 500.20,475.36 501.50,476.60 502.60,478.61 503.70,480.05 504.85,483.32 506.00,486.62 507.10,490.04 508.20,494.52 509.35,498.26 510.50,502.47 511.65,506.29 512.80,509.91 513.90,513.23 515.00,515.79 516.13,517.73 517.27,519.99 518.40,522.59 519.53,524.43 520.67,526.19 521.80,527.95 522.93,529.42 524.07,530.77 525.20,532.33 526.17,532.81 527.13,533.79 528.10,534.50" fill="none" stroke="#e3141f" stroke-width="1.1" stroke-linejoin="round"/>
<line x1="327.00" y1="423.70" x2="529.10" y2="423.70" stroke="#b0b0b0" stroke-width="1.6"/>
<line x1="529.10" y1="422.90" x2="529.10" y2="535.60" stroke="#5e5e5e" stroke-width="1.6"/>
<line x1="327.00" y1="422.90" x2="327.00" y2="536.20" stroke="#555" stroke-width="1.5"/>
<line x1="327.00" y1="535.60" x2="529.10" y2="535.60" stroke="#666" stroke-width="1.3"/>
<line x1="328.00" y1="458.20" x2="444.20" y2="458.20" stroke="#333" stroke-width="1.3"/>
<line x1="328.40" y1="456.00" x2="328.40" y2="460.60" stroke="#111" stroke-width="1.4"/>
<line x1="444.10" y1="456.00" x2="444.10" y2="460.80" stroke="#111" stroke-width="1.4"/>
<text x="390.20" y="454.50" font-size="10.6" text-anchor="middle" font-weight="normal" fill="#000">M1</text>
<text x="322.00" y="480.20" font-size="9.4" text-anchor="middle" font-weight="normal" fill="#000" transform="rotate(-90 322 480.2)">Counts</text>
<text x="437.20" y="547.30" font-size="9.35" text-anchor="middle" font-weight="normal" fill="#000">Rhodamine 123 uptake</text>
<rect x="330.30" y="394.50" width="6.00" height="6.00" fill="#c4c4c4"/>
<text x="338.80" y="400.70" font-size="9.35" text-anchor="start" font-weight="normal" fill="#000">ATP hydrolysis inhibition (4°C)</text>
<rect x="330.30" y="405.30" width="6.00" height="6.00" fill="#000"/>
<text x="338.80" y="411.50" font-size="9.1" text-anchor="start" font-weight="normal" fill="#000">Isotype control mAb</text>
<rect x="330.30" y="416.10" width="6.00" height="6.00" fill="#e8101a"/>
<text x="338.80" y="422.30" font-size="9.1" text-anchor="start" font-weight="normal" fill="#000">Anti-ABCB5 mAb</text>
</svg>
</body></html>
